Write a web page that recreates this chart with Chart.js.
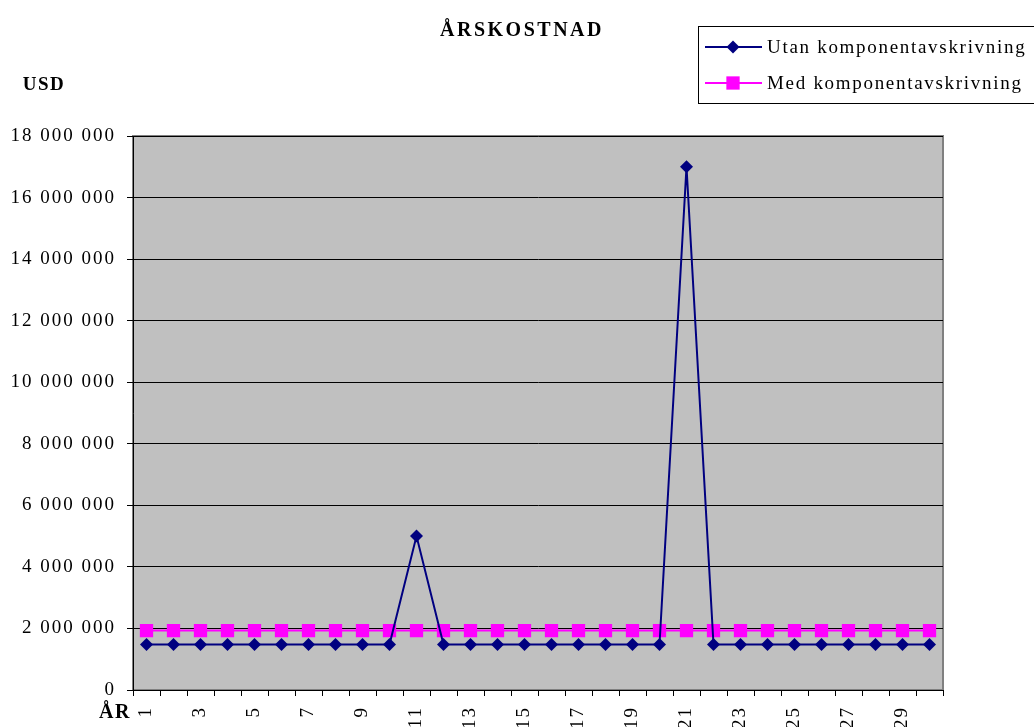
<!DOCTYPE html>
<html>
<head>
<meta charset="utf-8">
<script src="https://cdn.jsdelivr.net/npm/chart.js@4"></script>
<style>
  html, body { margin: 0; padding: 0; background: #fff; }
  #wrap { position: relative; width: 1034px; height: 727px; }
</style>
</head>
<body>
<div id="wrap"><canvas id="chart" width="1034" height="727"></canvas></div>
<script>
// --- Data ---
const years = ['1','2','3','4','5','6','7','8','9','10','11','12','13','14','15',
               '16','17','18','19','20','21','22','23','24','25','26','27','28','29','30'];
const utan = [1480000, 1480000, 1480000, 1480000, 1480000, 1480000, 1480000, 1480000, 1480000, 1480000,
              5000000, 1480000, 1480000, 1480000, 1480000, 1480000, 1480000, 1480000, 1480000, 1480000,
              17000000, 1480000, 1480000, 1480000, 1480000, 1480000, 1480000, 1480000, 1480000, 1480000];
const med = [1930000, 1930000, 1930000, 1930000, 1930000, 1930000, 1930000, 1930000, 1930000, 1930000,
             1930000, 1930000, 1930000, 1930000, 1930000, 1930000, 1930000, 1930000, 1930000, 1930000,
             1930000, 1930000, 1930000, 1930000, 1930000, 1930000, 1930000, 1930000, 1930000, 1930000];
const yTicks = { min: 0, max: 18000000, step: 2000000 };

const FONT = "'Liberation Serif', 'Times New Roman', serif";

function fmt(v) {
    return String(v).replace(/\B(?=(\d{3})+(?!\d))/g, ' ');
}

// gray plot background like the old spreadsheet charts
const plotBg = {
    id: 'plotBg',
    beforeDraw(chart) {
        const { ctx, chartArea: a } = chart;
        ctx.save();
        ctx.fillStyle = '#c0c0c0';
        ctx.fillRect(a.left, a.top, a.right - a.left, a.bottom - a.top);
        ctx.strokeStyle = '#808080';
        ctx.lineWidth = 2;
        ctx.strokeRect(a.left, a.top, a.right - a.left, a.bottom - a.top);
        ctx.restore();
        ctx.letterSpacing = '2px';
    }
};

// title, unit labels and the boxed legend
const labelsPlugin = {
    id: 'labels',
    afterDraw(chart) {
        const ctx = chart.ctx;
        ctx.save();
        ctx.letterSpacing = '2.5px';
        ctx.fillStyle = '#000';
        ctx.textBaseline = 'middle';
        ctx.textAlign = 'center';
        ctx.font = 'bold 20px ' + FONT;
        ctx.fillText('ÅRSKOSTNAD', 522, 31);
        ctx.letterSpacing = '1.5px';
        ctx.font = 'bold 19px ' + FONT;
        ctx.fillText('USD', 44, 85);
        ctx.textAlign = 'left';
        ctx.font = 'bold 20px ' + FONT;
        ctx.fillText('ÅR', 99, 713);

        // legend box
        ctx.letterSpacing = '1.7px';
        ctx.strokeStyle = '#000';
        ctx.lineWidth = 1;
        ctx.strokeRect(698.5, 26.5, 400, 77);
        ctx.font = '19px ' + FONT;
        chart.data.datasets.forEach((ds, i) => {
            const y = 47 + i * 36;
            ctx.strokeStyle = ds.borderColor;
            ctx.lineWidth = 2;
            ctx.beginPath();
            ctx.moveTo(705, y);
            ctx.lineTo(762, y);
            ctx.stroke();
            ctx.fillStyle = ds.pointBackgroundColor;
            Chart.helpers.drawPoint(ctx, {
                pointStyle: ds.pointStyle, radius: ds.pointRadius, borderWidth: 0
            }, 733, y);
            ctx.fillStyle = '#000';
            ctx.fillText(ds.label, 767, y + 1);
        });
        ctx.restore();
    }
};

new Chart(document.getElementById('chart'), {
    type: 'line',
    data: {
        labels: years,
        datasets: [
            {
                label: 'Utan komponentavskrivning',
                data: utan,
                borderColor: '#000080',
                backgroundColor: '#000080',
                pointBackgroundColor: '#000080',
                pointBorderColor: '#000080',
                borderWidth: 2,
                pointStyle: 'rectRot',
                pointRadius: 6.5,
                pointBorderWidth: 0,
                tension: 0
            },
            {
                label: 'Med komponentavskrivning',
                data: med,
                borderColor: '#ff00ff',
                backgroundColor: '#ff00ff',
                pointBackgroundColor: '#ff00ff',
                pointBorderColor: '#ff00ff',
                borderWidth: 2,
                pointStyle: 'rect',
                pointRadius: 9.4,
                pointBorderWidth: 0,
                tension: 0
            }
        ]
    },
    options: {
        responsive: false,
        animation: false,
        layout: { padding: { left: 0, top: 136, right: 91, bottom: 0 } },
        plugins: {
            legend: { display: false },
            title: { display: false },
            tooltip: { enabled: false }
        },
        scales: {
            x: {
                offset: true,
                afterFit: s => { s.height = 37; },
                grid: { offset: true, drawOnChartArea: false, color: '#000', tickLength: 6 },
                border: { color: '#000', width: 1 },
                ticks: {
                    autoSkip: false,
                    minRotation: 90,
                    maxRotation: 90,
                    padding: 10,
                    color: '#000',
                    font: { family: FONT, size: 19 },
                    callback: (v, i) => (i % 2 === 0 ? years[i] : '')
                }
            },
            y: {
                min: yTicks.min,
                max: yTicks.max,
                afterFit: s => { s.width = 133; },
                grid: { color: '#000', tickLength: 6 },
                border: { color: '#000', width: 1 },
                ticks: {
                    stepSize: yTicks.step,
                    padding: 11,
                    color: '#000',
                    font: { family: FONT, size: 19 },
                    callback: v => fmt(v)
                }
            }
        }
    },
    plugins: [plotBg, labelsPlugin]
});
</script>
</body>
</html>
